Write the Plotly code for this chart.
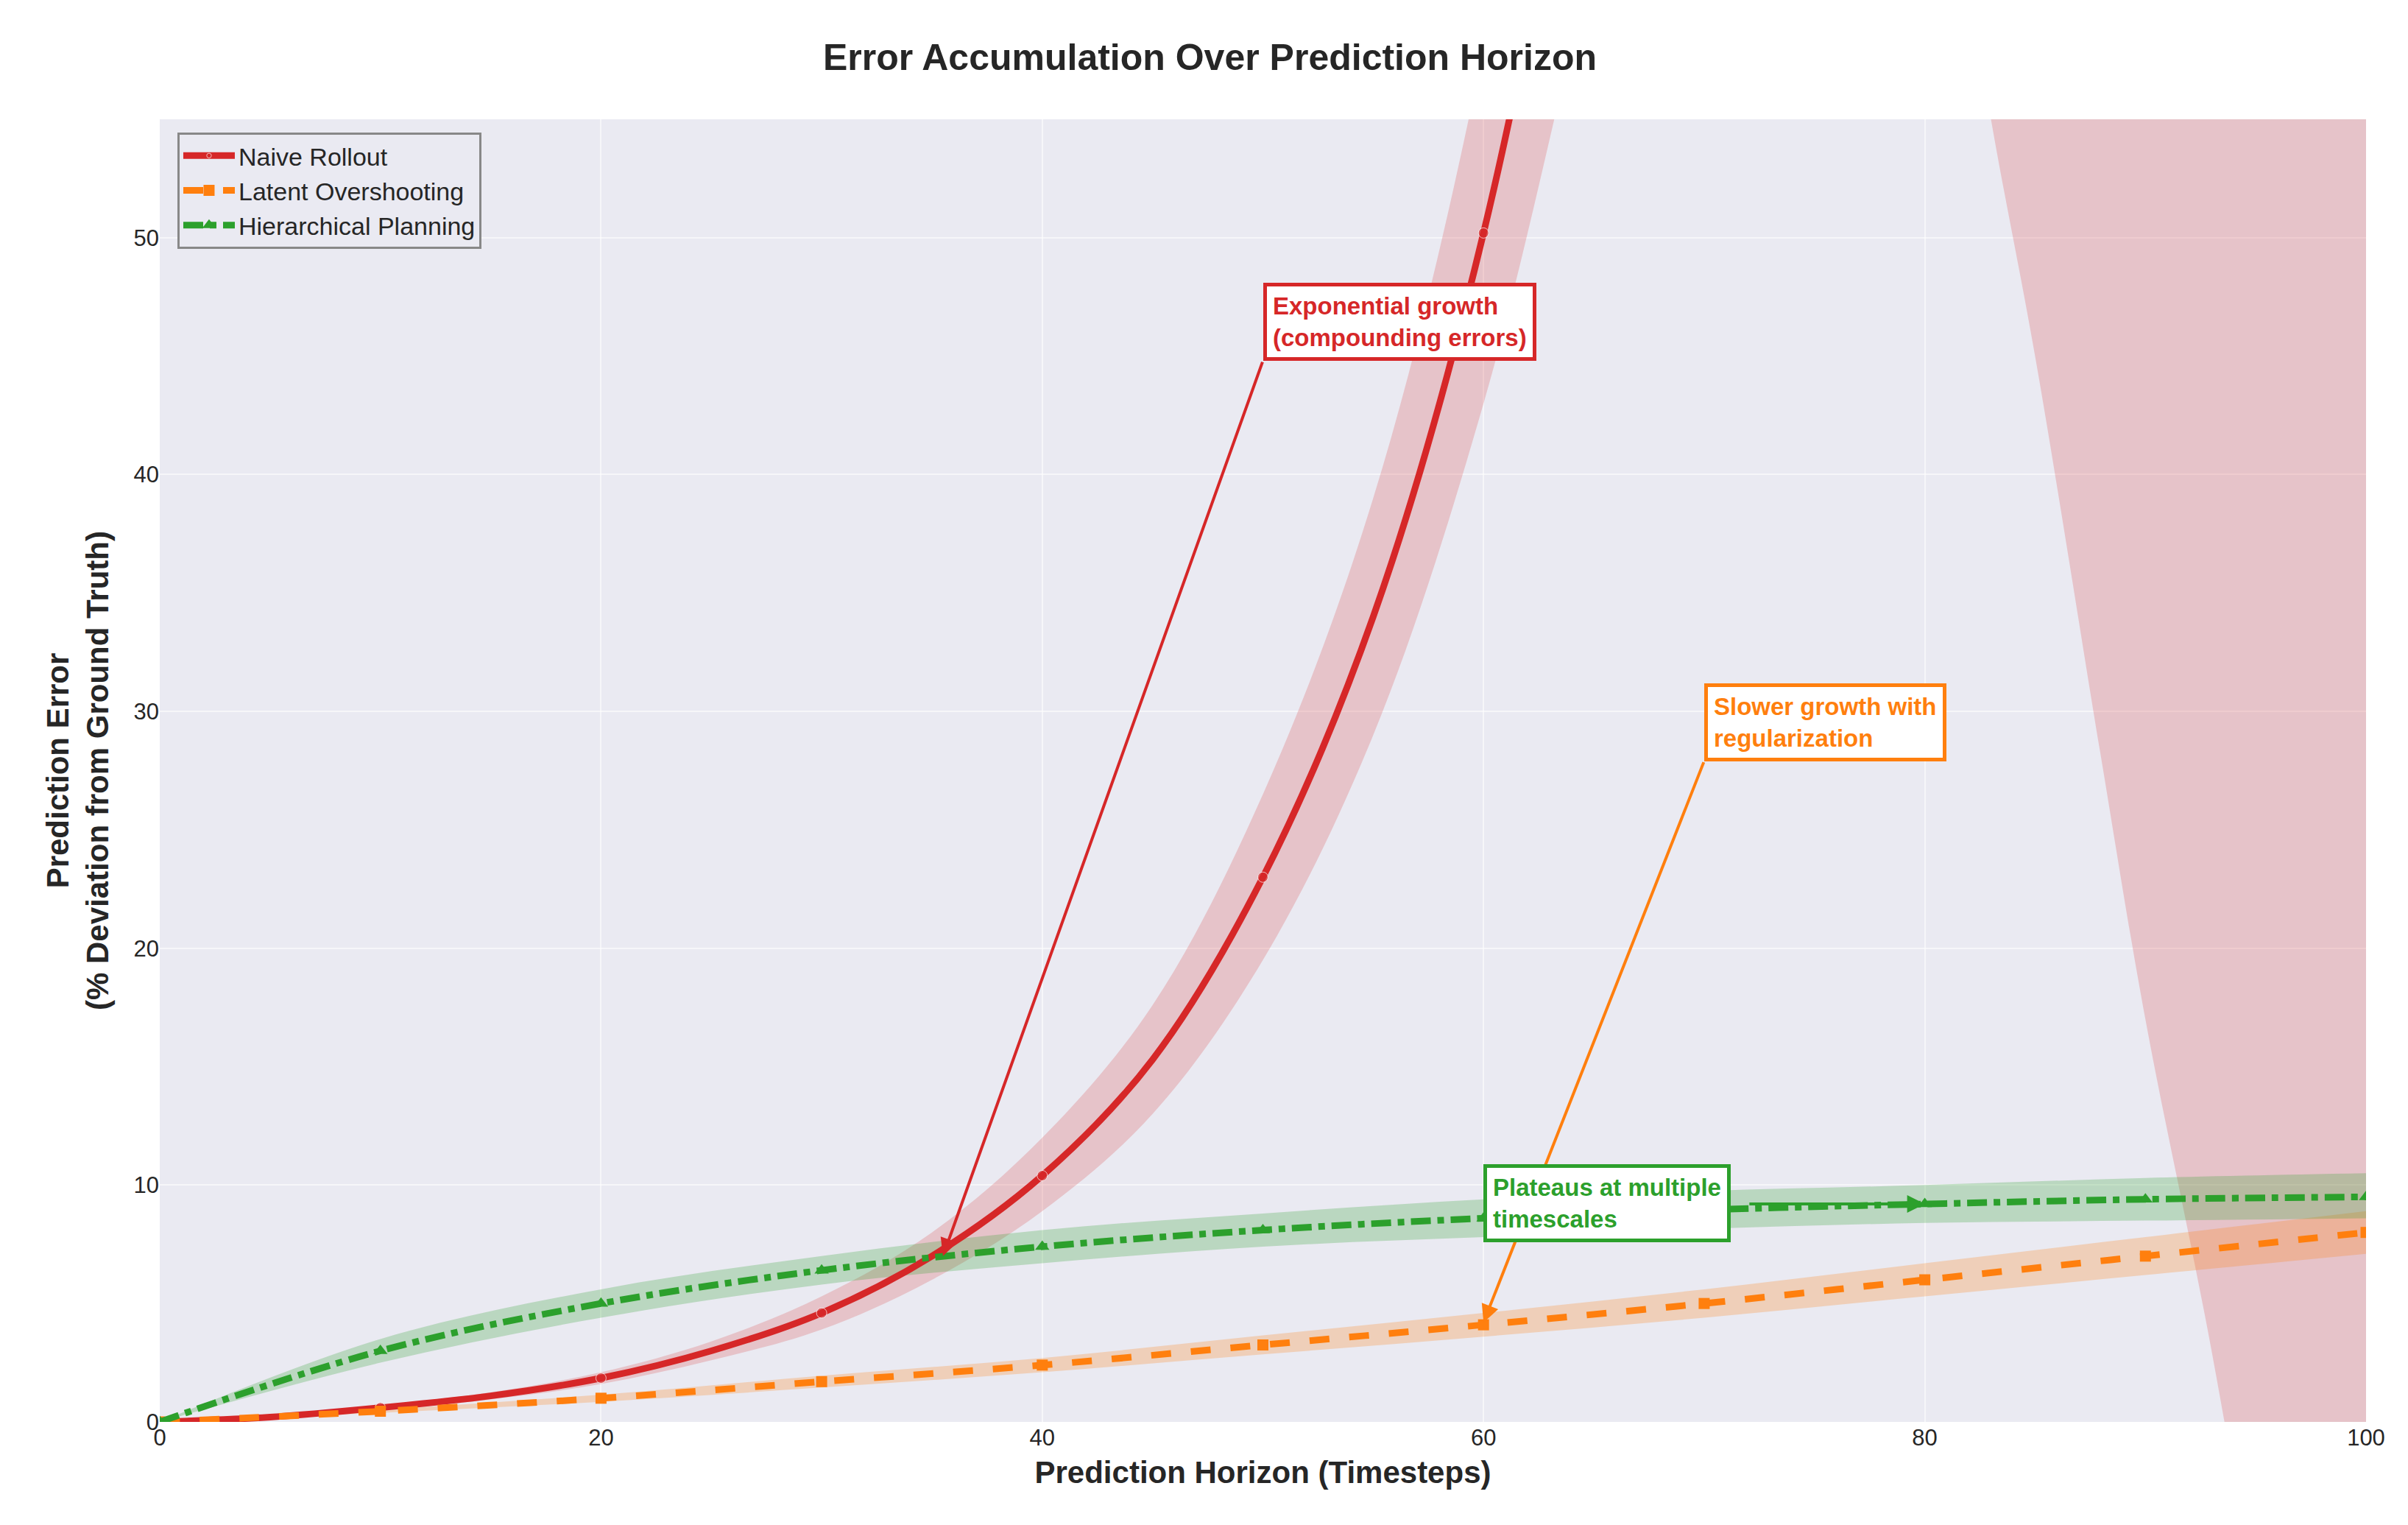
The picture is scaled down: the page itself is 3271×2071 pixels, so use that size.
import plotly.graph_objects as go

# Data
x = [0, 5, 10, 15, 20, 25, 30, 35, 40, 45, 50, 55, 60, 65, 70, 75, 80, 83, 85, 88, 90, 93, 95, 100]
naive = [0, 0.2, 0.6, 1.1, 1.85, 3.0, 4.6, 7.0, 10.4, 15.3, 23.0, 34.0, 50.2, 74, 105, 140, 180, 200, 215, 240, 255, 280, 300, 340]
naive_lo = [0, 0.17, 0.5, 0.95, 1.6, 2.6, 3.9, 6.0, 8.9, 13.0, 19.5, 29.0, 43.0, 62, 80, 90, 72, 55, 45, 28, 17, 3, -8, -40]
naive_hi = [0, 0.23, 0.7, 1.25, 2.1, 3.4, 5.3, 8.0, 12.0, 17.6, 26.5, 39.0, 58.0, 86, 120, 160, 205, 230, 245, 270, 290, 320, 340, 380]

x10 = [0, 10, 20, 30, 40, 50, 60, 70, 80, 90, 100]
latent = [0, 0.45, 1.0, 1.7, 2.4, 3.25, 4.1, 5.0, 6.0, 7.0, 8.0]
latent_lo = [0, 0.38, 0.85, 1.45, 2.1, 2.85, 3.6, 4.4, 5.3, 6.2, 7.1]
latent_hi = [0, 0.52, 1.15, 1.95, 2.7, 3.65, 4.6, 5.6, 6.7, 7.8, 8.9]

hier = [0, 3.0, 5.0, 6.4, 7.4, 8.1, 8.6, 8.95, 9.2, 9.4, 9.5]
hier_lo = [0, 2.5, 4.4, 5.8, 6.7, 7.4, 7.8, 8.15, 8.4, 8.5, 8.6]
hier_hi = [0, 3.5, 5.6, 7.0, 8.1, 8.8, 9.4, 9.75, 10.0, 10.3, 10.5]

RED, ORANGE, GREEN = '#d62728', '#ff7f0e', '#2ca02c'

fig = go.Figure()

def band(xs, lo, hi, color):
    fig.add_trace(go.Scatter(x=xs, y=hi, mode='lines', line=dict(width=0, shape='spline'),
                             showlegend=False, hoverinfo='skip'))
    fig.add_trace(go.Scatter(x=xs, y=lo, mode='lines', line=dict(width=0, shape='spline'),
                             fill='tonexty', fillcolor=color, showlegend=False, hoverinfo='skip'))

band(x, naive_lo, naive_hi, 'rgba(214,39,40,0.2)')
band(x10, latent_lo, latent_hi, 'rgba(255,127,14,0.25)')
band(x10, hier_lo, hier_hi, 'rgba(44,160,44,0.25)')

naive_sizes = [14 if v % 10 == 0 else 0 for v in x]
fig.add_trace(go.Scatter(x=x, y=naive, mode='lines+markers', name='Naive Rollout',
                         line=dict(color=RED, width=9, shape='spline'),
                         marker=dict(size=naive_sizes, symbol='circle', color=RED)))
fig.add_trace(go.Scatter(x=x10, y=latent, mode='lines+markers', name='Latent Overshooting',
                         line=dict(color=ORANGE, width=9, dash='dash', shape='spline'),
                         marker=dict(size=15, symbol='square', color=ORANGE)))
fig.add_trace(go.Scatter(x=x10, y=hier, mode='lines+markers', name='Hierarchical Planning',
                         line=dict(color=GREEN, width=9, dash='dashdot', shape='spline'),
                         marker=dict(size=17, symbol='triangle-up', color=GREEN)))

def note(text, tx, ty, px, py, color):
    fig.add_annotation(x=px, y=py, ax=tx, ay=ty, axref='x', ayref='y', xref='x', yref='y',
                       text='', showarrow=True, arrowhead=2, arrowsize=1.2, arrowwidth=4,
                       arrowcolor=color)
    fig.add_annotation(x=tx, y=ty, xref='x', yref='y', text=text, showarrow=False,
                       xanchor='left', yanchor='bottom', align='left',
                       font=dict(size=33, color=color, family='Liberation Sans'),
                       bgcolor='white', bordercolor=color, borderwidth=5, borderpad=8)

note('<b>Exponential growth<br>(compounding errors)</b>', 50, 44.8, 35.5, 7.0, RED)
note('<b>Slower growth with<br>regularization</b>', 70, 27.9, 60, 4.2, ORANGE)
fig.add_annotation(x=80, y=9.2, ax=72, ay=9.2, axref='x', ayref='y', text='', showarrow=True,
                   arrowhead=2, arrowsize=1.2, arrowwidth=4, arrowcolor=GREEN)
fig.add_annotation(x=60, y=7.6, xref='x', yref='y', text='<b>Plateaus at multiple<br>timescales</b>',
                   showarrow=False, xanchor='left', yanchor='bottom', align='left',
                   font=dict(size=33, color=GREEN, family='Liberation Sans'),
                   bgcolor='white', bordercolor=GREEN, borderwidth=5, borderpad=8)

grid = 'rgba(255,255,255,0.55)'
fig.update_layout(
    width=3271, height=2071,
    paper_bgcolor='white', plot_bgcolor='#EAEAF2',
    font=dict(family='Liberation Sans', size=30, color='#262626'),
    title=dict(text='<b>Error Accumulation Over Prediction Horizon</b>', x=0.5, xanchor='center',
               y=0.975, font=dict(size=50)),
    margin=dict(l=209, r=65, t=154, b=148),
    xaxis=dict(range=[0, 100], dtick=20, showgrid=True, gridcolor=grid, gridwidth=2, zeroline=False,
               title=dict(text='<b>Prediction Horizon (Timesteps)</b>', font=dict(size=42), standoff=15),
               tickfont=dict(size=31), ticks='', showline=False),
    yaxis=dict(range=[0, 55], dtick=10, showgrid=True, gridcolor=grid, gridwidth=2, zeroline=False,
               title=dict(text='<b>Prediction Error<br>(% Deviation from Ground Truth)</b>', font=dict(size=42),
                          standoff=20),
               tickfont=dict(size=31), ticks=''),
    legend=dict(x=0.008, y=0.99, xanchor='left', yanchor='top', bgcolor='#EAEAF2', traceorder='normal',
                bordercolor='#888888', borderwidth=3, font=dict(size=34), itemwidth=70),
)

fig.write_html("out.html")
